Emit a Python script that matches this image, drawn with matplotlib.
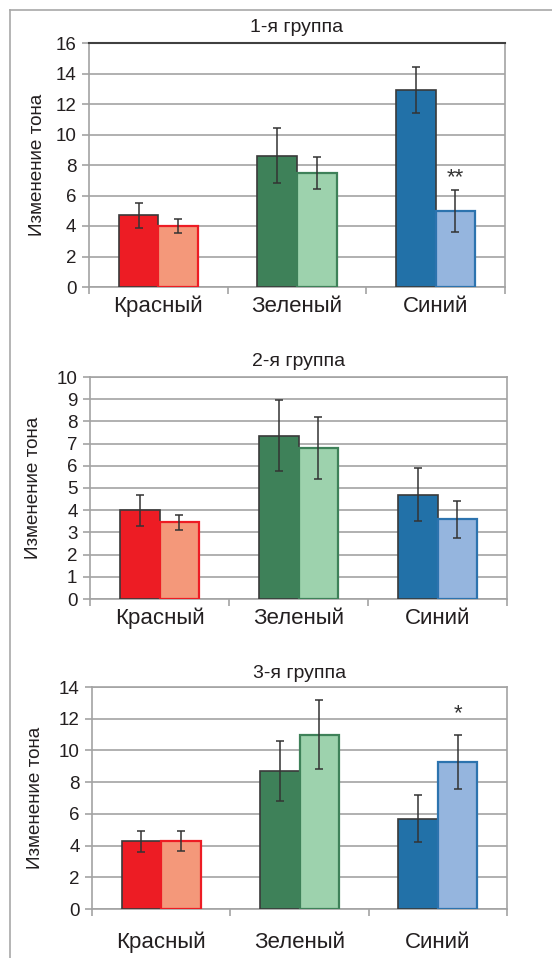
import matplotlib
matplotlib.use("Agg")
import matplotlib.pyplot as plt
from matplotlib.lines import Line2D
import numpy as np

plt.rcParams['font.family'] = ['Liberation Sans', 'DejaVu Sans']

categories = ["Красный", "Зеленый", "Синий"]
titles = ["1-я группа", "2-я группа", "3-я группа"]
ylabel = "Изменение тона"

# group 1
g1_dark = [4.7, 8.6, 12.9]
g1_dark_err = [0.8, 1.8, 1.5]
g1_light = [4.0, 7.45, 5.0]
g1_light_err = [0.45, 1.05, 1.37]
# group 2
g2_dark = [4.0, 7.35, 4.7]
g2_dark_err = [0.69, 1.6, 1.2]
g2_light = [3.45, 6.8, 3.6]
g2_light_err = [0.34, 1.4, 0.83]
# group 3
g3_dark = [4.27, 8.7, 5.7]
g3_dark_err = [0.68, 1.9, 1.5]
g3_light = [4.3, 11.0, 9.28]
g3_light_err = [0.63, 2.15, 1.7]

ymaxes = [16, 10, 14]
ysteps = [2, 1, 2]
marks = [("**", 2, 7.2), None, ("*", 2, 12.3)]

dark_colors = ["#ED1C24", "#3E8159", "#2271A8"]
light_colors = ["#F4987A", "#9DD2AD", "#95B5DE"]
light_edges = ["#ED1C24", "#3E8159", "#2C73AE"]

fig = plt.figure(figsize=(5.52, 9.58), dpi=100)
W, H = 552.0, 958.0

# outer frame
fig.add_artist(Line2D([10/W, 10/W], [0, 1-10/H], transform=fig.transFigure, color="#A8A8A8", lw=1.2))
fig.add_artist(Line2D([10/W, 1], [1-10/H, 1-10/H], transform=fig.transFigure, color="#A8A8A8", lw=1.2))

# pixel boxes: left, right, top, bottom
boxes = [(89, 505, 43, 287), (90, 507, 377, 599), (92, 507, 687, 909)]
title_y = [27, 362, 673]
label_x = [38, 34, 36]
cat_y = [306, 618, 942]

datasets = [
    (g1_dark, g1_dark_err, g1_light, g1_light_err),
    (g2_dark, g2_dark_err, g2_light, g2_light_err),
    (g3_dark, g3_dark_err, g3_light, g3_light_err),
]

x = np.arange(len(categories))
bw = 0.285
grid_c = "#A3A3A3"
text_c = "#231F20"

for i, (l, r, t, b) in enumerate(boxes):
    ax = fig.add_axes([l/W, 1-b/H, (r-l)/W, (b-t)/H])
    dark, dark_err, light, light_err = datasets[i]
    ax.bar(x - bw/2, dark, bw, color=dark_colors, edgecolor="#3A3A3A", linewidth=1.2, zorder=3)
    ax.bar(x + bw/2, light, bw, color=light_colors, edgecolor=light_edges, linewidth=1.6, zorder=3)
    ax.errorbar(x - bw/2, dark, yerr=dark_err, fmt="none", ecolor="#333333", elinewidth=1.1, capsize=3, capthick=1.1, zorder=4)
    ax.errorbar(x + bw/2, light, yerr=light_err, fmt="none", ecolor="#333333", elinewidth=1.1, capsize=3, capthick=1.1, zorder=4)
    ax.set_xlim(-0.5, 2.5)
    ax.set_ylim(0, ymaxes[i])
    ax.set_yticks(np.arange(0, ymaxes[i] + 0.1, ysteps[i]))
    ax.yaxis.grid(True, color=grid_c, lw=1.2, zorder=0)
    ax.set_axisbelow(True)
    ax.set_xticks(x)
    ax.set_xticklabels(categories, fontsize=16, color=text_c, va="center")
    pad_px = cat_y[i] - b
    ax.set_xticks([-0.5, 0.5, 1.5, 2.5], minor=True)
    ax.tick_params(axis="x", which="major", length=0, pad=pad_px * 72 / 100)
    ax.tick_params(axis="x", which="minor", length=5, color=grid_c, width=1.2, direction="out")
    ax.tick_params(axis="y", length=5, color=grid_c, width=1.2, labelsize=13.5, labelcolor=text_c, pad=4)
    for s in ["left", "bottom", "right", "top"]:
        ax.spines[s].set_color(grid_c)
        ax.spines[s].set_linewidth(1.2)
    if i == 0:
        ax.spines["top"].set_color("#404040")
        ax.spines["top"].set_linewidth(1.5)
    fig.text(label_x[i]/W, 1-((t+b)/2)/H, ylabel, rotation=90, ha="center", va="center", fontsize=13.6, color=text_c)
    fig.text(((l+r)/2)/W, 1-title_y[i]/H, titles[i], ha="center", va="center", fontsize=14, color=text_c)
    if marks[i] is not None:
        s, xi, yv = marks[i]
        ax.text(xi + bw/2, yv, s, ha="center", va="center", fontsize=16, color="#333333")

fig.savefig("out.png", dpi=100)
